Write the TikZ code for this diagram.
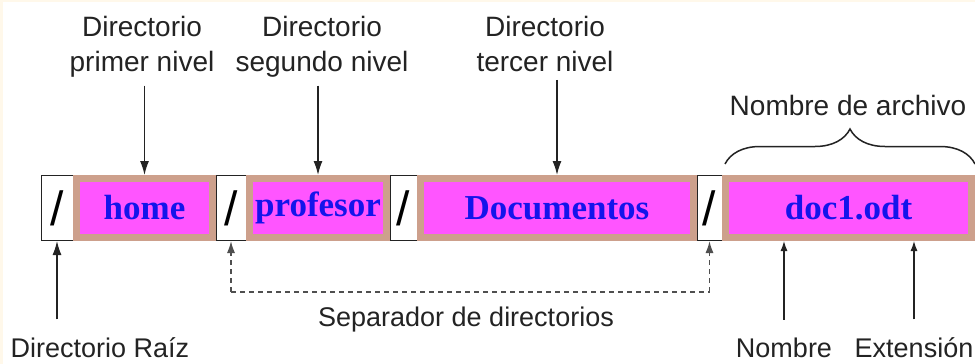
\documentclass[tikz,border=0pt]{standalone}
\usepackage{fontspec}
\setmainfont{Liberation Serif}
\setsansfont{Liberation Sans}
\usepackage{tikz}
\usetikzlibrary{arrows.meta,decorations.pathreplacing}
\definecolor{cream}{RGB}{255,248,234}
\definecolor{tanbrown}{RGB}{205,160,140}
\definecolor{magbox}{RGB}{255,85,255}
\definecolor{ink}{RGB}{35,35,35}
\definecolor{dirblue}{RGB}{20,20,235}

\begin{document}
\begin{tikzpicture}[x=1pt,y=-1pt,
    sepbox/.style={draw=ink,fill=white,line width=1pt,minimum height=65pt,inner sep=0pt,
        font=\sffamily\fontsize{48}{48}\selectfont},
    dirbox/.style={draw=tanbrown,line width=7pt,fill=magbox,minimum height=59pt,inner sep=0pt,
        text=dirblue,font=\bfseries\fontsize{35}{35}\selectfont},
    lbl/.style={text=ink,inner sep=3.5pt,align=center,font=\sffamily\fontsize{28}{35}\selectfont},
    lowlbl/.style={lbl,font=\sffamily\fontsize{27}{35}\selectfont},
    ptr/.style={draw=ink,line width=1.4pt,-{Latex[length=14pt,width=9pt]}},
    smallptr/.style={draw=ink,line width=1.2pt,-{Latex[length=10pt,width=7pt]}},
    sepline/.style={draw=ink!80,line width=1.5pt,dash pattern=on 5pt off 4pt}]
    \useasboundingbox (0,0) rectangle (975,364);
    \fill[cream] (0,0) rectangle (975,364);
    \fill[white] (3,2) rectangle (975,364);

    % the path, piece by piece
    \node[sepbox,minimum width=32pt] (sep1) at (57,208) {/};
    \node[sepbox,minimum width=30pt] (sep2) at (231,208) {/};
    \node[sepbox,minimum width=27pt] (sep3) at (403.5,208) {/};
    \node[sepbox,minimum width=25pt] (sep4) at (709.5,208) {/};
    \node[dirbox,minimum width=136pt] (home) at (144.5,208) {home};
    \node[dirbox,minimum width=137pt] (profesor) at (318,208) {profesor};
    \node[dirbox,minimum width=273pt] (documentos) at (557,208) {Documentos};
    \node[dirbox,minimum width=246pt] (archivo) at (848.5,208) {doc1.odt};

    % labels above
    \node[lbl,anchor=north] (nivel1) at (142,13) {Directorio\\primer nivel};
    \node[lbl,anchor=north] (nivel2) at (322,13) {Directorio\\segundo nivel};
    \node[lbl,anchor=north] (nivel3) at (545,13) {Directorio\\tercer nivel};
    \node[lbl,anchor=base] (nomarch) at (848,115) {Nombre de archivo};
    \draw[ptr,shorten <=4pt] (nivel1.south -| home.north) -- (home.north);
    \draw[ptr,shorten <=4pt] (nivel2.south -| profesor.north) -- (profesor.north);
    \draw[ptr,shorten <=4pt] (nivel3.south -| documentos.north) -- (documentos.north);
    \draw[ink,line width=1.5pt,decorate,decoration={brace,amplitude=35pt}]
        ([xshift=3pt,yshift=11pt]archivo.north west) -- ([yshift=11pt]archivo.north east);

    % labels below
    \node[lowlbl,anchor=base] (raiz) at (100,357) {Directorio Raíz};
    \node[lowlbl,anchor=base] (separador) at (466,326) {Separador de directorios};
    \node[lowlbl,anchor=base] (nombre) at (784,357) {Nombre};
    \node[lowlbl,anchor=base] (extension) at (914,357) {Extensión};
    \draw[ptr,shorten <=14pt] (raiz.north -| sep1.south) -- (sep1.south);
    \draw[smallptr,shorten <=14pt] (nombre.north) -- (nombre.north |- archivo.south);
    \draw[smallptr,shorten <=14pt] (extension.north) -- (extension.north |- archivo.south);
    \path (sep2.south) ++(0,51) coordinate (dl);
    \path (sep4.south) ++(0,51) coordinate (dr);
    \draw[sepline] (dl) -- (dr);
    \draw[sepline,-{Latex[length=12pt,width=8pt]}] (dl) -- (sep2.south);
    \draw[sepline,-{Latex[length=12pt,width=8pt]}] (dr) -- (sep4.south);
\end{tikzpicture}
\end{document}
